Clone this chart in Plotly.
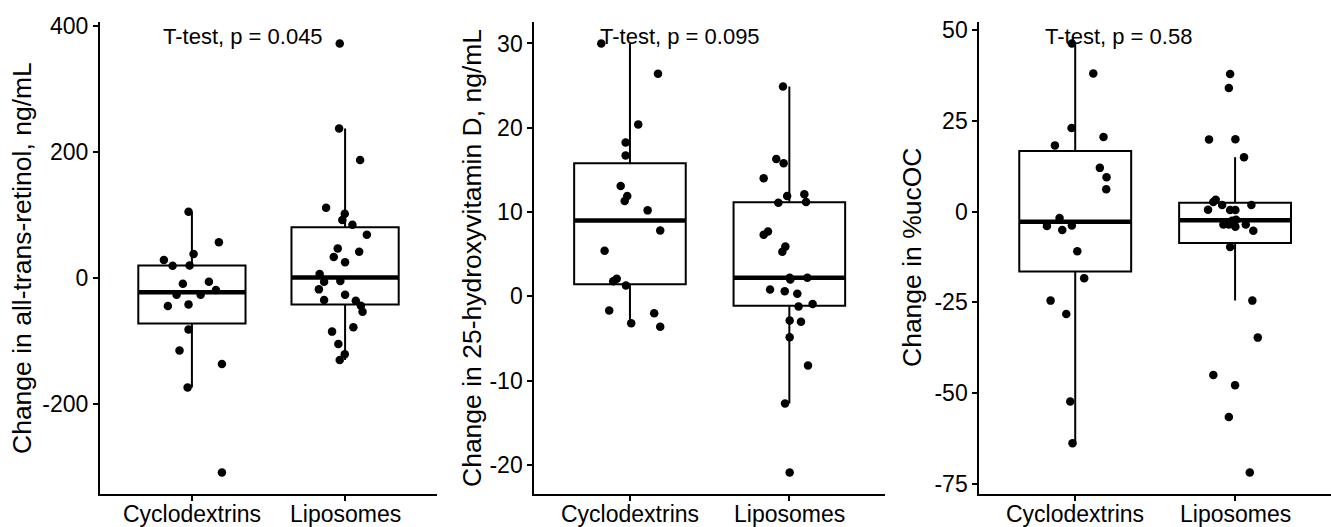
import numpy as np
import plotly.graph_objects as go

W, H = 1331, 527

categories = ["Cyclodextrins", "Liposomes"]

# Panel 1: all-trans-retinol
p1_cyc = [105, 56.6, 38, 28.6, 19.5, 20, -9, -5.9, -19, -26.5, -26.5, -44.4, -41.8, -81.5, -114.8, -136.5, -173.5, -308.5]
p1_cyc_jit = [-0.022, 0.176, 0.011, -0.183, -0.126, -0.015, -0.059, 0.111, 0.157, -0.100, 0.057, -0.157, -0.022, -0.022, -0.081, 0.196, -0.028, 0.196]
p1_lip = [372, 237, 187, 111.6, 102, 92, 84.6, 68.8, 47, 41.8, 33.3, 24.9, 6.3, -5.8, -4.8, -18, -26.5, -35, -36, -44, -53.4, -85, -78, -104.8, -121, -130]
p1_lip_jit = [-0.035, -0.039, 0.098, -0.124, -0.002, -0.018, 0.048, 0.142, -0.048, 0.092, -0.074, 0.0, -0.166, -0.137, -0.031, -0.171, 0.0, -0.137, 0.070, 0.103, 0.114, -0.085, 0.054, -0.044, -0.002, -0.035]

# Panel 2: 25-hydroxyvitamin D
p2_cyc = [30, 26.4, 20.4, 18.25, 16.7, 13.1, 11.9, 11.3, 10.2, 7.8, 5.4, 2.1, 1.8, 1.3, -1.67, -2.0, -3.2, -3.6]
p2_cyc_jit = [-0.180, 0.176, 0.052, -0.027, -0.027, -0.058, -0.017, -0.033, 0.111, 0.190, -0.159, -0.083, -0.105, -0.025, -0.130, 0.152, 0.008, 0.190]
p2_lip = [24.9, 16.3, 15.8, 14.0, 11.9, 12.1, 11.1, 11.2, 7.7, 7.3, 5.9, 5.3, 2.2, 2.2, 2.0, 0.8, 0.6, 0.3, -0.9, -1.2, -2.86, -3.0, -4.85, -8.2, -12.7, -20.9]
p2_lip_jit = [-0.040, -0.082, -0.036, -0.161, -0.014, 0.094, -0.069, 0.105, -0.134, -0.161, -0.025, -0.044, 0.002, 0.113, 0.006, -0.121, -0.029, 0.050, 0.146, 0.058, 0.002, 0.073, 0.002, 0.117, -0.027, 0.002]

# Panel 3: %ucOC
p3_cyc = [46.4, 38.1, 23.1, 20.6, 18.3, 12.1, 9.5, 6.2, -1.75, -3.9, -3.8, -5.0, -10.9, -18.3, -24.5, -28.2, -52.3, -63.8]
p3_cyc_jit = [-0.021, 0.113, -0.023, 0.177, -0.127, 0.154, 0.196, 0.194, -0.098, -0.177, -0.021, -0.081, 0.013, 0.056, -0.154, -0.056, -0.031, -0.017]
p3_lip = [38.0, 34.1, 19.9, 20.0, 15.0, 3.3, 2.7, 1.85, 1.85, 0.55, 0.46, 0.46, -3.5, -2.5, -2.2, -3.5, -4.1, -3.5, -5.25, -9.7, -24.5, -34.7, -45.0, -47.8, -56.6, -71.9]
p3_lip_jit = [-0.031, -0.039, -0.163, 0.002, 0.056, -0.121, -0.136, -0.081, 0.102, -0.169, -0.031, 0.002, -0.073, -0.019, 0.006, -0.039, 0.002, 0.067, 0.114, -0.031, 0.108, 0.142, -0.136, 0.0, -0.039, 0.092]

y_titles = ["Change in all-trans-retinol, ng/mL", "Change in 25-hydroxyvitamin D, ng/mL", "Change in %ucOC"]
p_labels = ["T-test, p = 0.045", "T-test, p = 0.095", "T-test, p = 0.58"]
y_ticks = [[-200, 0, 200, 400], [-20, -10, 0, 10, 20, 30], [-75, -50, -25, 0, 25, 50]]

panels = [
    (p1_cyc, p1_cyc_jit, p1_lip, p1_lip_jit),
    (p2_cyc, p2_cyc_jit, p2_lip, p2_lip_jit),
    (p3_cyc, p3_cyc_jit, p3_lip, p3_lip_jit),
]

# layout geometry (pixels)
x_dom_px = [(100, 437), (534.3, 885), (979.3, 1331)]
y_top_px, y_bot_px = 22, 494
title_x_px = [22, 472, 912]
label_y_px = 37
xtick_mid_px = 514

FONT = "Liberation Sans, Arial, Helvetica, sans-serif"
BW = 0.7

def box_stats(v):
    a = np.asarray(v, dtype=float)
    q1, med, q3 = np.percentile(a, [25, 50, 75])
    iqr = q3 - q1
    lo = a[a >= q1 - 1.5 * iqr].min()
    hi = a[a <= q3 + 1.5 * iqr].max()
    return q1, med, q3, lo, hi

fig = go.Figure()
layout = dict(
    width=W, height=H, margin=dict(l=0, r=0, t=0, b=0, autoexpand=False),
    paper_bgcolor="white", plot_bgcolor="white", showlegend=False,
    font=dict(family=FONT, color="black"),
)
annotations = []

for i, (cv, cj, lv, lj) in enumerate(panels):
    n = i + 1
    xa = "x" if n == 1 else f"x{n}"
    ya = "y" if n == 1 else f"y{n}"
    for k, (vals, jit) in enumerate([(cv, cj), (lv, lj)]):
        c = k + 1
        q1, med, q3, lo, hi = box_stats(vals)
        fig.add_trace(go.Box(
            x=[c], q1=[q1], median=[med], q3=[q3], lowerfence=[lo], upperfence=[hi],
            width=BW, whiskerwidth=0, boxpoints=False,
            fillcolor="white", line=dict(color="black", width=2),
            xaxis=xa, yaxis=ya, hoverinfo="skip",
        ))
        fig.add_trace(go.Scatter(
            x=[c - BW / 2, c + BW / 2], y=[med, med], mode="lines",
            line=dict(color="black", width=4.5), xaxis=xa, yaxis=ya, hoverinfo="skip",
        ))
        fig.add_trace(go.Scatter(
            x=[c + j for j in jit], y=vals, mode="markers",
            marker=dict(color="black", size=8.5), xaxis=xa, yaxis=ya,
        ))
        # category tick label
        annotations.append(dict(
            x=c, xref=xa, y=(H - xtick_mid_px) / H, yref="paper",
            text=categories[k], showarrow=False, xanchor="center", yanchor="middle",
            font=dict(family=FONT, size=23, color="black"),
        ))
    allv = np.array(cv + lv, dtype=float)
    span = allv.max() - allv.min()
    yr = [allv.min() - 0.05 * span, allv.max() + 0.05 * span]
    x0, x1 = x_dom_px[i]
    axis_common = dict(
        showline=True, linecolor="black", linewidth=2, mirror=False,
        ticks="outside", ticklen=5, tickwidth=2, tickcolor="black",
        showgrid=False, zeroline=False, automargin=False,
        tickfont=dict(family=FONT, size=23, color="black"),
    )
    layout["xaxis" if n == 1 else f"xaxis{n}"] = dict(
        domain=[x0 / W, x1 / W], range=[0.4, 2.6], anchor=ya,
        tickvals=[1, 2], ticktext=categories, showticklabels=False, **axis_common,
    )
    layout["yaxis" if n == 1 else f"yaxis{n}"] = dict(
        domain=[(H - y_bot_px) / H, (H - y_top_px) / H], range=yr, anchor=xa,
        tickvals=y_ticks[i], ticktext=[str(t) for t in y_ticks[i]], **axis_common,
    )
    annotations.append(dict(
        x=0.8, xref=xa, y=(H - label_y_px) / H, yref="paper",
        text=p_labels[i], showarrow=False, xanchor="left", yanchor="middle",
        font=dict(family=FONT, size=22, color="black"),
    ))
    annotations.append(dict(
        x=title_x_px[i] / W, xref="paper", y=(H - (y_top_px + y_bot_px) / 2) / H, yref="paper",
        text=y_titles[i], showarrow=False, textangle=-90, xanchor="center", yanchor="middle",
        font=dict(family=FONT, size=26.5, color="black"),
    ))

layout["annotations"] = annotations
fig.update_layout(**layout)
fig.write_html(
    "out.html",
    config={"displayModeBar": False},
    post_script="document.body.style.margin='0';document.body.style.overflow='hidden';",
)
